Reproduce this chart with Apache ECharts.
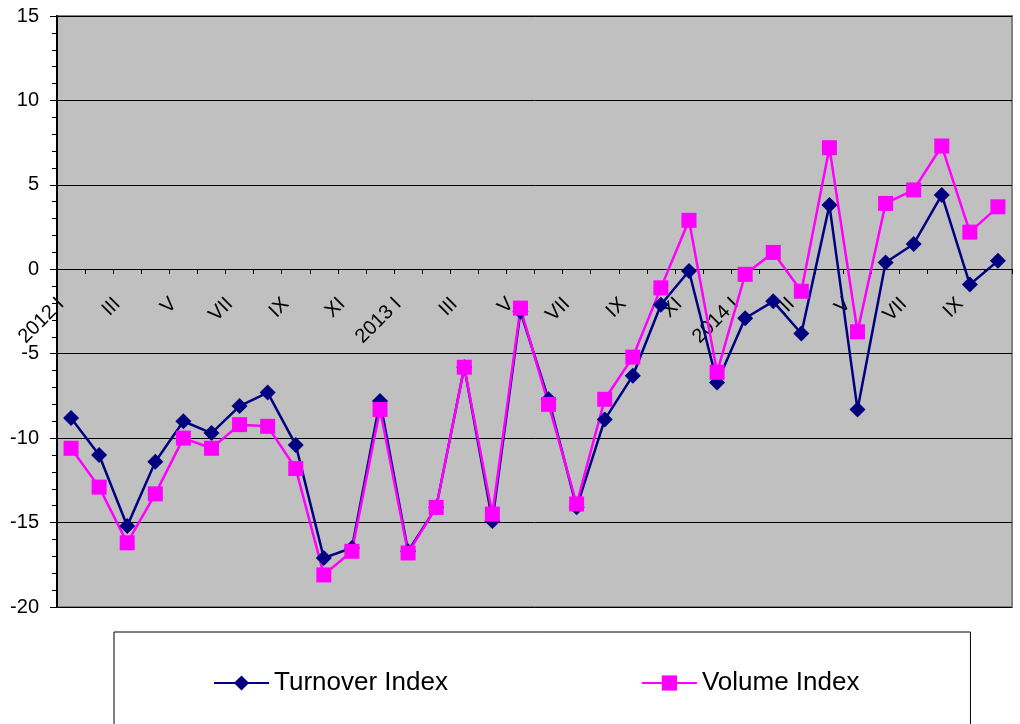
<!DOCTYPE html>
<html>
<head>
<meta charset="utf-8">
<script src="https://cdn.jsdelivr.net/npm/echarts@6/dist/echarts.min.js"></script>
<style>
  html, body { margin: 0; padding: 0; background: #fff; }
  #main { width: 1020px; height: 724px; }
</style>
</head>
<body>
<div id="main"></div>
<script>
// months, 2012 I .. 2014 X
const categories = [
  '2012 I', 'II', 'III', 'IV', 'V', 'VI', 'VII', 'VIII', 'IX', 'X', 'XI', 'XII',
  '2013 I', 'II', 'III', 'IV', 'V', 'VI', 'VII', 'VIII', 'IX', 'X', 'XI', 'XII',
  '2014 I', 'II', 'III', 'IV', 'V', 'VI', 'VII', 'VIII', 'IX', 'X'
];
const turnoverIndex = [
  -8.8, -11.0, -15.2, -11.4, -9.0, -9.7, -8.1, -7.3, -10.4, -17.1, -16.5, -7.8,
  -16.7, -14.1, -5.8, -14.9, -2.5, -7.7, -14.1, -8.9, -6.3, -2.1, -0.1, -6.7,
  -2.9, -1.9, -3.8, 3.8, -8.3, 0.4, 1.5, 4.4, -0.9, 0.5
];
const volumeIndex = [
  -10.6, -12.9, -16.2, -13.3, -10.0, -10.6, -9.2, -9.3, -11.8, -18.1, -16.7, -8.3,
  -16.8, -14.1, -5.8, -14.5, -2.3, -8.0, -13.9, -7.7, -5.2, -1.1, 2.9, -6.1,
  -0.3, 1.0, -1.3, 7.2, -3.7, 3.9, 4.7, 7.3, 2.2, 3.7
];
const yTicks = { min: -20, max: 15, step: 5 };

const myChart = echarts.init(document.getElementById('main'));
const font = '"Liberation Sans", Arial, sans-serif';

// plot box
const gridTop = 16, gridBottom = 117, plotH = 724 - gridTop - gridBottom;
// category axis sits on the zero line (Excel style)
const zeroOffset = -Math.round(plotH * (0 - yTicks.min) / (yTicks.max - yTicks.min));

const option = {
  animation: false,
  textStyle: { fontFamily: font },
  grid: {
    left: 57,
    right: 8,
    top: gridTop,
    bottom: gridBottom,
    show: true,
    backgroundColor: '#C0C0C0',
    borderColor: '#808080',
    borderWidth: 2
  },
  legend: {
    left: 114,
    top: 632,
    padding: [38, 111, 60, 99],
    borderColor: '#000',
    borderWidth: 1,
    itemWidth: 55,
    itemHeight: 19,
    itemGap: 193,
    textStyle: { fontSize: 26, color: '#000', fontFamily: font },
    data: ['Turnover Index', 'Volume Index']
  },
  xAxis: {
    type: 'category',
    data: categories,
    boundaryGap: true,
    offset: zeroOffset,
    axisLine: { onZero: false, lineStyle: { color: '#000', width: 1 } },
    axisTick: { show: true, interval: 0, length: 5, lineStyle: { color: '#000' } },
    axisLabel: {
      interval: 1,
      rotate: 45,
      fontSize: 20,
      color: '#000',
      margin: 22,
      padding: [0, 14, 0, 0],
      fontFamily: font
    },
    splitLine: { show: false }
  },
  yAxis: {
    type: 'value',
    min: yTicks.min,
    max: yTicks.max,
    interval: yTicks.step,
    axisLine: { show: true, lineStyle: { color: '#000', width: 2 } },
    axisTick: { show: true, length: 7, lineStyle: { color: '#000' } },
    minorTick: { show: true, splitNumber: 5, length: 5, lineStyle: { color: '#000' } },
    axisLabel: { fontSize: 20, color: '#000', margin: 18, fontFamily: font },
    splitLine: { show: true, lineStyle: { color: '#000', width: 1 } }
  },
  series: [
    {
      name: 'Turnover Index',
      type: 'line',
      data: turnoverIndex,
      symbol: 'diamond',
      symbolSize: 16,
      color: '#000080',
      lineStyle: { color: '#000080', width: 2.5 },
      itemStyle: { color: '#000080' }
    },
    {
      name: 'Volume Index',
      type: 'line',
      data: volumeIndex,
      symbol: 'rect',
      symbolSize: 15,
      color: '#FF00FF',
      lineStyle: { color: '#FF00FF', width: 2.5 },
      itemStyle: { color: '#FF00FF' }
    }
  ]
};

myChart.setOption(option);
</script>
</body>
</html>
